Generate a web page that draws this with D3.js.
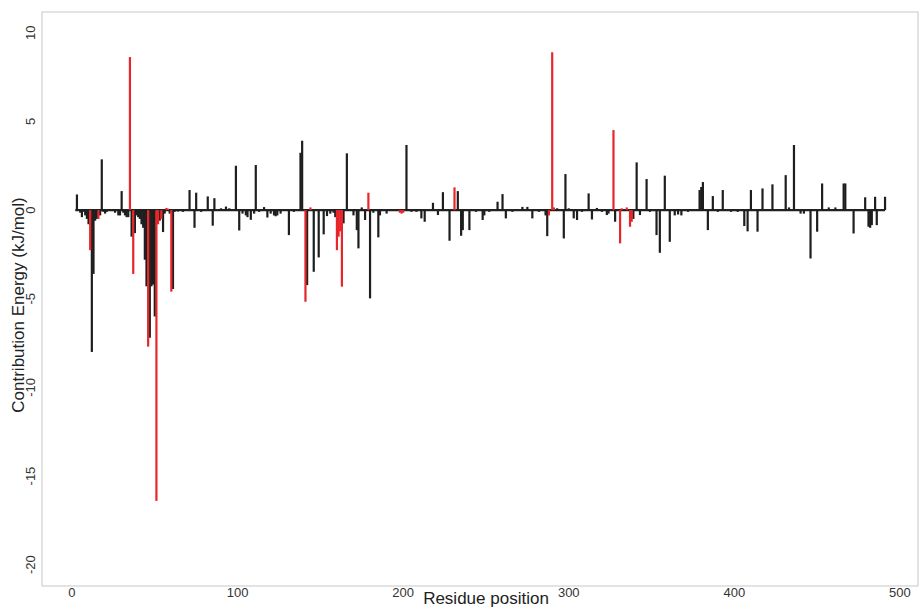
<!DOCTYPE html>
<html>
<head>
<meta charset="utf-8">
<script src="https://cdn.jsdelivr.net/npm/d3@7"></script>
<style>
  html, body { margin: 0; padding: 0; background: #fff; }
  svg { display: block; }
  text { font-family: "Liberation Sans", Arial, sans-serif; }
</style>
</head>
<body>
<svg id="chart" width="921" height="608"></svg>
<script>
// Residue positions and their contribution energies (kJ/mol)
const residues = [
  3,5,6,7,8,9,10,11,12,13,14,15,16,17,18,19,20,21,22,26,28,29,30,31,32,33,34,35,36,37,38,39,40,41,42,43,
  44,45,46,47,48,49,50,51,52,53,54,55,56,57,58,59,60,61,62,64,67,71,74,75,78,82,85,86,90,93,95,99,101,103,
  105,106,108,110,111,113,116,118,120,122,123,124,126,131,134,138,139,141,142,144,146,149,152,154,156,158,
  159,160,161,162,163,164,166,170,172,173,175,177,179,180,182,185,186,190,198,199,200,202,205,208,211,213,
  218,221,224,228,231,233,235,236,240,244,248,249,252,257,260,262,266,272,275,278,282,286,287,288,290,291,
  293,297,298,300,303,305,308,312,314,317,320,323,324,327,328,331,332,335,337,338,339,341,343,347,349,353,
  355,358,361,364,366,368,372,379,380,381,384,387,390,393,398,402,406,408,410,414,417,420,423,428,431,433,
  436,440,442,446,450,453,457,461,466,467,472,479,481,482,483,485,486,491
];
const energies = [
  0.88,-0.15,-0.4,-0.1,-0.3,-0.5,-0.8,-2.26,-8.0,-3.6,-0.6,-0.5,-0.5,-0.3,2.86,-0.1,-0.2,-0.1,0.05,-0.15,-0.3,-0.3,1.07,-0.15,-0.3,-0.4,-0.4,8.63,-1.5,-3.6,-1.3,-0.3,-0.4,-0.5,-0.8,-1.0,
  -2.8,-4.3,-7.7,-7.2,-4.3,-4.2,-6.0,-16.4,-0.8,-0.6,-0.5,-1.24,-0.2,0.12,0.08,-0.2,-4.6,-4.45,-0.1,-0.08,-0.1,1.13,-1.0,0.98,-0.1,0.77,-0.88,0.67,0.1,0.2,0.1,2.5,-1.15,-0.2,
  -0.3,-0.4,-0.55,-0.2,2.54,-0.1,0.17,-0.42,-0.2,-0.3,-0.35,-0.3,-0.2,-1.41,-0.1,3.23,3.91,-5.17,-4.23,0.15,-3.48,-2.67,-1.37,-0.34,-0.2,-0.15,
  -0.4,-2.26,-1.5,-1.2,-4.32,-0.75,3.2,-0.3,-1.13,-2.16,0.15,-0.56,0.98,-4.98,-0.15,-1.54,-0.3,-0.2,-0.15,-0.2,-0.15,3.67,-0.1,-0.1,-0.47,-0.66,
  0.41,-0.28,1.01,-1.73,1.28,1.07,-1.45,-1.13,-1.13,-0.1,-0.56,-0.3,-0.1,0.47,0.9,-0.47,-0.1,0.18,0.18,-0.47,-0.1,-0.3,-1.47,-0.3,8.9,0.15,
  0.1,-1.6,2.03,0.1,-0.47,-0.56,-0.1,0.94,-0.53,0.12,-0.1,-0.28,-0.2,4.51,-0.66,-1.88,0.1,0.15,-0.94,-0.66,-0.5,2.69,-0.28,1.75,-0.1,-1.41,
  -2.41,1.94,-1.79,-0.3,-0.25,-0.3,-0.1,1.13,1.3,1.58,-1.13,0.79,-0.1,1.13,-0.1,-0.1,-0.9,-1.2,1.13,-1.22,1.22,0.05,1.45,0.05,1.97,0.15,
  3.67,-0.2,-0.2,-2.73,-1.22,1.5,0.15,0.15,1.5,1.5,-1.32,0.72,-0.94,-1.0,-0.85,0.75,-0.85,0.75
];
// Residues drawn in red (key residues)
const keyResidues = [11,16,35,37,46,51,52,54,57,58,60,141,144,160,161,162,163,179,198,199,200,231,288,290,291,327,331,332,335,337,338];

const xTicks = [0,100,200,300,400,500];
const yTicks = [-20,-15,-10,-5,0,5,10];

const svg = d3.select("#chart");
const plot = {left: 42, top: 12, right: 918, bottom: 586};

const x = d3.scaleLinear().domain([-18.1, 510.9]).range([plot.left, plot.right]);
const y = d3.scaleLinear().domain([-21.2, 11.17]).range([plot.bottom, plot.top]);

const data = residues.map((r, i) => ({r, v: energies[i], key: keyResidues.includes(r)}));

// panel border
svg.append("rect")
  .attr("x", plot.left).attr("y", plot.top)
  .attr("width", plot.right - plot.left).attr("height", plot.bottom - plot.top)
  .attr("fill", "none").attr("stroke", "#d0d0d0").attr("stroke-width", 1.2);

// baseline across residue extent
const ext = d3.extent(residues);
svg.append("line")
  .attr("x1", x(ext[0] - 1)).attr("x2", x(ext[1]))
  .attr("y1", y(0)).attr("y2", y(0))
  .attr("stroke", "#222").attr("stroke-width", 2.2);

// bars (black first, red on top)
const bw = 2.2;
svg.append("g").selectAll("rect")
  .data(data.slice().sort((a, b) => a.key - b.key))
  .join("rect")
  .attr("x", d => x(d.r) - bw / 2)
  .attr("width", bw)
  .attr("y", d => Math.min(y(0), y(d.v)))
  .attr("height", d => Math.max(1, Math.abs(y(d.v) - y(0))))
  .attr("fill", d => d.key ? "#e8262a" : "#1e1e1e");

// x axis tick labels
svg.append("g").selectAll("text")
  .data(xTicks).join("text")
  .attr("x", d => x(d)).attr("y", 597)
  .attr("text-anchor", "middle")
  .attr("font-size", 13).attr("fill", "#333")
  .text(d => d);

// y axis tick labels (rotated)
svg.append("g").selectAll("text")
  .data(yTicks).join("text")
  .attr("transform", d => `translate(35,${y(d)}) rotate(-90)`)
  .attr("text-anchor", "middle")
  .attr("font-size", 13).attr("fill", "#333")
  .text(d => d);

// axis titles
svg.append("text")
  .attr("x", 486).attr("y", 604)
  .attr("text-anchor", "middle")
  .attr("font-size", 17).attr("fill", "#222")
  .text("Residue position");

svg.append("text")
  .attr("transform", "translate(24,305) rotate(-90)")
  .attr("text-anchor", "middle")
  .attr("font-size", 17).attr("fill", "#222")
  .text("Contribution Energy (kJ/mol)");
</script>
</body>
</html>
